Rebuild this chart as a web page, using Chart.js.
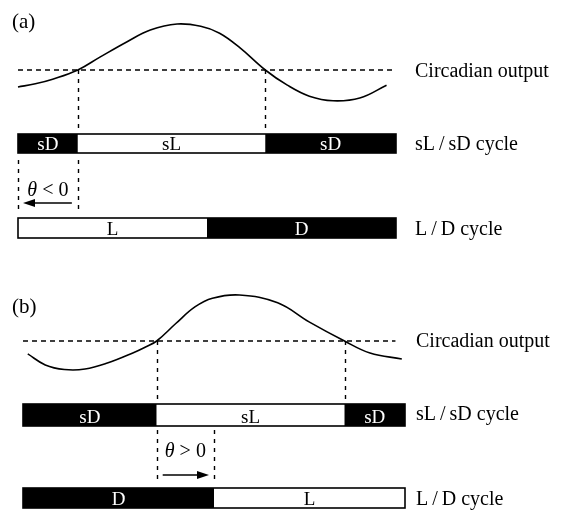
<!DOCTYPE html>
<html lang="en">
<head>
<meta charset="UTF-8" />
<title>Circadian output, sL/sD and L/D cycles</title>
<script src="https://cdn.jsdelivr.net/npm/chart.js"></script>
<style>
  html, body { margin: 0; padding: 0; background: #fff; }
  .panel { position: absolute; left: 0; width: 568px; }
  #panelA { top: 0; height: 256px; }
  #panelB { top: 270px; height: 243px; }
</style>
</head>
<body>
<div class="panel" id="panelA"><canvas id="chartA"></canvas></div>
<div class="panel" id="panelB"><canvas id="chartB"></canvas></div>
<script>
// time is in hours along a 24 h bar, output level is relative to threshold (0)
const curveTimeA  = [0, 1.1, 2.2, 3.8, 5.2, 6.9, 8.4, 10.1, 11.6, 12.8, 14.1, 15.7, 17.1, 18.5, 20.0, 21.7, 23.4];
const curveLevelA = [-0.37, -0.30, -0.20, 0, 0.28, 0.61, 0.87, 1.0, 0.95, 0.80, 0.48, 0, -0.33, -0.57, -0.67, -0.61, -0.33];
const curveTimeB  = [0.3, 1.4, 2.6, 3.9, 5.3, 6.9, 7.7, 8.4, 9.6, 10.8, 11.9, 13.6, 16.0, 18.0, 20.2, 21.8, 23.8];
const curveLevelB = [-0.28, -0.52, -0.62, -0.61, -0.48, -0.26, -0.13, 0, 0.38, 0.74, 0.93, 1.0, 0.83, 0.41, 0, -0.26, -0.39];

const thresholdLevel = 0;
const thresholdSpanA = [0, 23.9];
const thresholdSpanB = [0, 23.4];

// bar segments: edges in hours and their labels
const scEdgesA  = [0, 3.8, 15.7, 24];
const scLabelsA = ["sD", "sL", "sD"];
const ldEdgesA  = [0, 12, 24];
const ldLabelsA = ["L", "D"];
const scEdgesB  = [0, 8.4, 20.2, 24];
const scLabelsB = ["sD", "sL", "sD"];
const ldEdgesB  = [0, 12, 24];
const ldLabelsB = ["D", "L"];

// phase angle: from sL onset to L onset
const thetaA = [3.8, 0];
const thetaB = [8.4, 12];
const thetaTextA = ["\u03b8", " < 0"];
const thetaTextB = ["\u03b8", " > 0"];

const panelLetters = ["(a)", "(b)"];
const rowLabels = ["Circadian output", "sL\u2009/\u2009sD cycle", "L\u2009/\u2009D cycle"];

// pixel layout of each panel (not data)
const layoutA = { barLeft: 18, barRight: 396, height: 256, thr: 70, unit: 46,
  letterY: 28, upperDash: [70, 130], scBar: [134, 153], lowerDash: [160, 214],
  thetaY: 196, arrowY: 203, ldBar: [218, 238], labelX: 415, labelY: [77, 150, 235] };
const layoutB = { barLeft: 23, barRight: 405, height: 243, thr: 71, unit: 46,
  letterY: 43, upperDash: [71, 130], scBar: [134, 156], lowerDash: [160, 214],
  thetaY: 187, arrowY: 205, ldBar: [218, 238], labelX: 416, labelY: [77, 150, 235] };

const SERIF = '"Liberation Serif", "Times New Roman", serif';

function drawBar(ctx, X, edges, labels, top, bottom) {
  const h = bottom - top;
  for (let i = 0; i < labels.length; i++) {
    const x0 = X(edges[i]), x1 = X(edges[i + 1]);
    const dark = labels[i].endsWith("D");
    ctx.fillStyle = dark ? "#000" : "#fff";
    ctx.fillRect(x0, top, x1 - x0, h);
    ctx.fillStyle = dark ? "#fff" : "#000";
    ctx.font = "19px " + SERIF;
    ctx.textAlign = "center";
    ctx.textBaseline = "alphabetic";
    ctx.fillText(labels[i], (x0 + x1) / 2, bottom - 3);
  }
  ctx.strokeStyle = "#000";
  ctx.lineWidth = 1.6;
  ctx.strokeRect(X(edges[0]), top, X(edges[edges.length - 1]) - X(edges[0]), h);
  ctx.fillStyle = "#000";
}

function dashedV(ctx, x, y0, y1) {
  ctx.save();
  ctx.setLineDash([4, 5]);
  ctx.lineWidth = 1.4;
  ctx.strokeStyle = "#000";
  ctx.beginPath();
  ctx.moveTo(Math.round(x) + 0.5, y0);
  ctx.lineTo(Math.round(x) + 0.5, y1);
  ctx.stroke();
  ctx.restore();
}

const schematic = {
  id: "schematic",
  afterDatasetsDraw(chart, args, o) {
    const ctx = chart.ctx, xs = chart.scales.x;
    const X = v => xs.getPixelForValue(v);
    const L = o.layout;
    ctx.save();
    ctx.fillStyle = "#000";
    ctx.font = "21px " + SERIF;
    ctx.textAlign = "left";
    ctx.textBaseline = "alphabetic";
    ctx.fillText(o.letter, 12, L.letterY);

    // dashed drop lines from threshold crossings to the sL/sD bar
    dashedV(ctx, X(o.scEdges[1]), L.upperDash[0], L.upperDash[1]);
    dashedV(ctx, X(o.scEdges[2]), L.upperDash[0], L.upperDash[1]);

    drawBar(ctx, X, o.scEdges, o.scLabels, L.scBar[0], L.scBar[1]);
    drawBar(ctx, X, o.ldEdges, o.ldLabels, L.ldBar[0], L.ldBar[1]);

    // theta bracket
    dashedV(ctx, X(o.theta[0]), L.lowerDash[0], L.lowerDash[1]);
    dashedV(ctx, X(o.theta[1]), L.lowerDash[0], L.lowerDash[1]);
    const xa = X(o.theta[0]), xb = X(o.theta[1]);
    const dir = Math.sign(xb - xa);
    const s = xa + dir * 6, e = xb - dir * 5;
    ctx.strokeStyle = "#000";
    ctx.fillStyle = "#000";
    ctx.lineWidth = 1.6;
    ctx.beginPath();
    ctx.moveTo(s, L.arrowY);
    ctx.lineTo(e - dir * 8, L.arrowY);
    ctx.stroke();
    ctx.beginPath();
    ctx.moveTo(e, L.arrowY);
    ctx.lineTo(e - dir * 12, L.arrowY - 4);
    ctx.lineTo(e - dir * 12, L.arrowY + 4);
    ctx.closePath();
    ctx.fill();

    const fItal = "italic 20px " + SERIF, fNorm = "20px " + SERIF;
    ctx.font = fItal;
    const w0 = ctx.measureText(o.thetaText[0]).width;
    ctx.font = fNorm;
    const w1 = ctx.measureText(o.thetaText[1]).width;
    const tx = (xa + xb) / 2 - (w0 + w1) / 2;
    ctx.textAlign = "left";
    ctx.font = fItal;
    ctx.fillText(o.thetaText[0], tx, L.thetaY);
    ctx.font = fNorm;
    ctx.fillText(o.thetaText[1], tx + w0, L.thetaY);

    // row labels
    ctx.font = "20px " + SERIF;
    rowLabels.forEach((t, i) => ctx.fillText(t, L.labelX, L.labelY[i]));
    ctx.restore();
  }
};

function makePanel(id, L, times, levels, span, extra) {
  const pxPerHour = (L.barRight - L.barLeft) / 24;
  return new Chart(document.getElementById(id), {
    type: "line",
    data: {
      datasets: [
        {
          data: times.map((t, i) => ({ x: t, y: levels[i] })),
          borderColor: "#000",
          borderWidth: 1.6,
          pointRadius: 0,
          tension: 0.4,
          fill: false,
        },
        {
          data: span.map(t => ({ x: t, y: thresholdLevel })),
          borderColor: "#000",
          borderWidth: 1.4,
          borderDash: [5, 4],
          pointRadius: 0,
          fill: false,
        },
      ],
    },
    options: {
      responsive: true,
      maintainAspectRatio: false,
      animation: false,
      devicePixelRatio: 1,
      layout: { padding: 0 },
      scales: {
        x: { type: "linear", display: false, min: -L.barLeft / pxPerHour, max: (568 - L.barLeft) / pxPerHour },
        y: { type: "linear", display: false, min: -(L.height - L.thr) / L.unit, max: L.thr / L.unit },
      },
      plugins: {
        legend: { display: false },
        tooltip: { enabled: false },
        schematic: Object.assign({ layout: L }, extra),
      },
    },
    plugins: [schematic],
  });
}

makePanel("chartA", layoutA, curveTimeA, curveLevelA, thresholdSpanA, {
  letter: panelLetters[0], scEdges: scEdgesA, scLabels: scLabelsA,
  ldEdges: ldEdgesA, ldLabels: ldLabelsA, theta: thetaA, thetaText: thetaTextA,
});
makePanel("chartB", layoutB, curveTimeB, curveLevelB, thresholdSpanB, {
  letter: panelLetters[1], scEdges: scEdgesB, scLabels: scLabelsB,
  ldEdges: ldEdgesB, ldLabels: ldLabelsB, theta: thetaB, thetaText: thetaTextB,
});
</script>
</body>
</html>
